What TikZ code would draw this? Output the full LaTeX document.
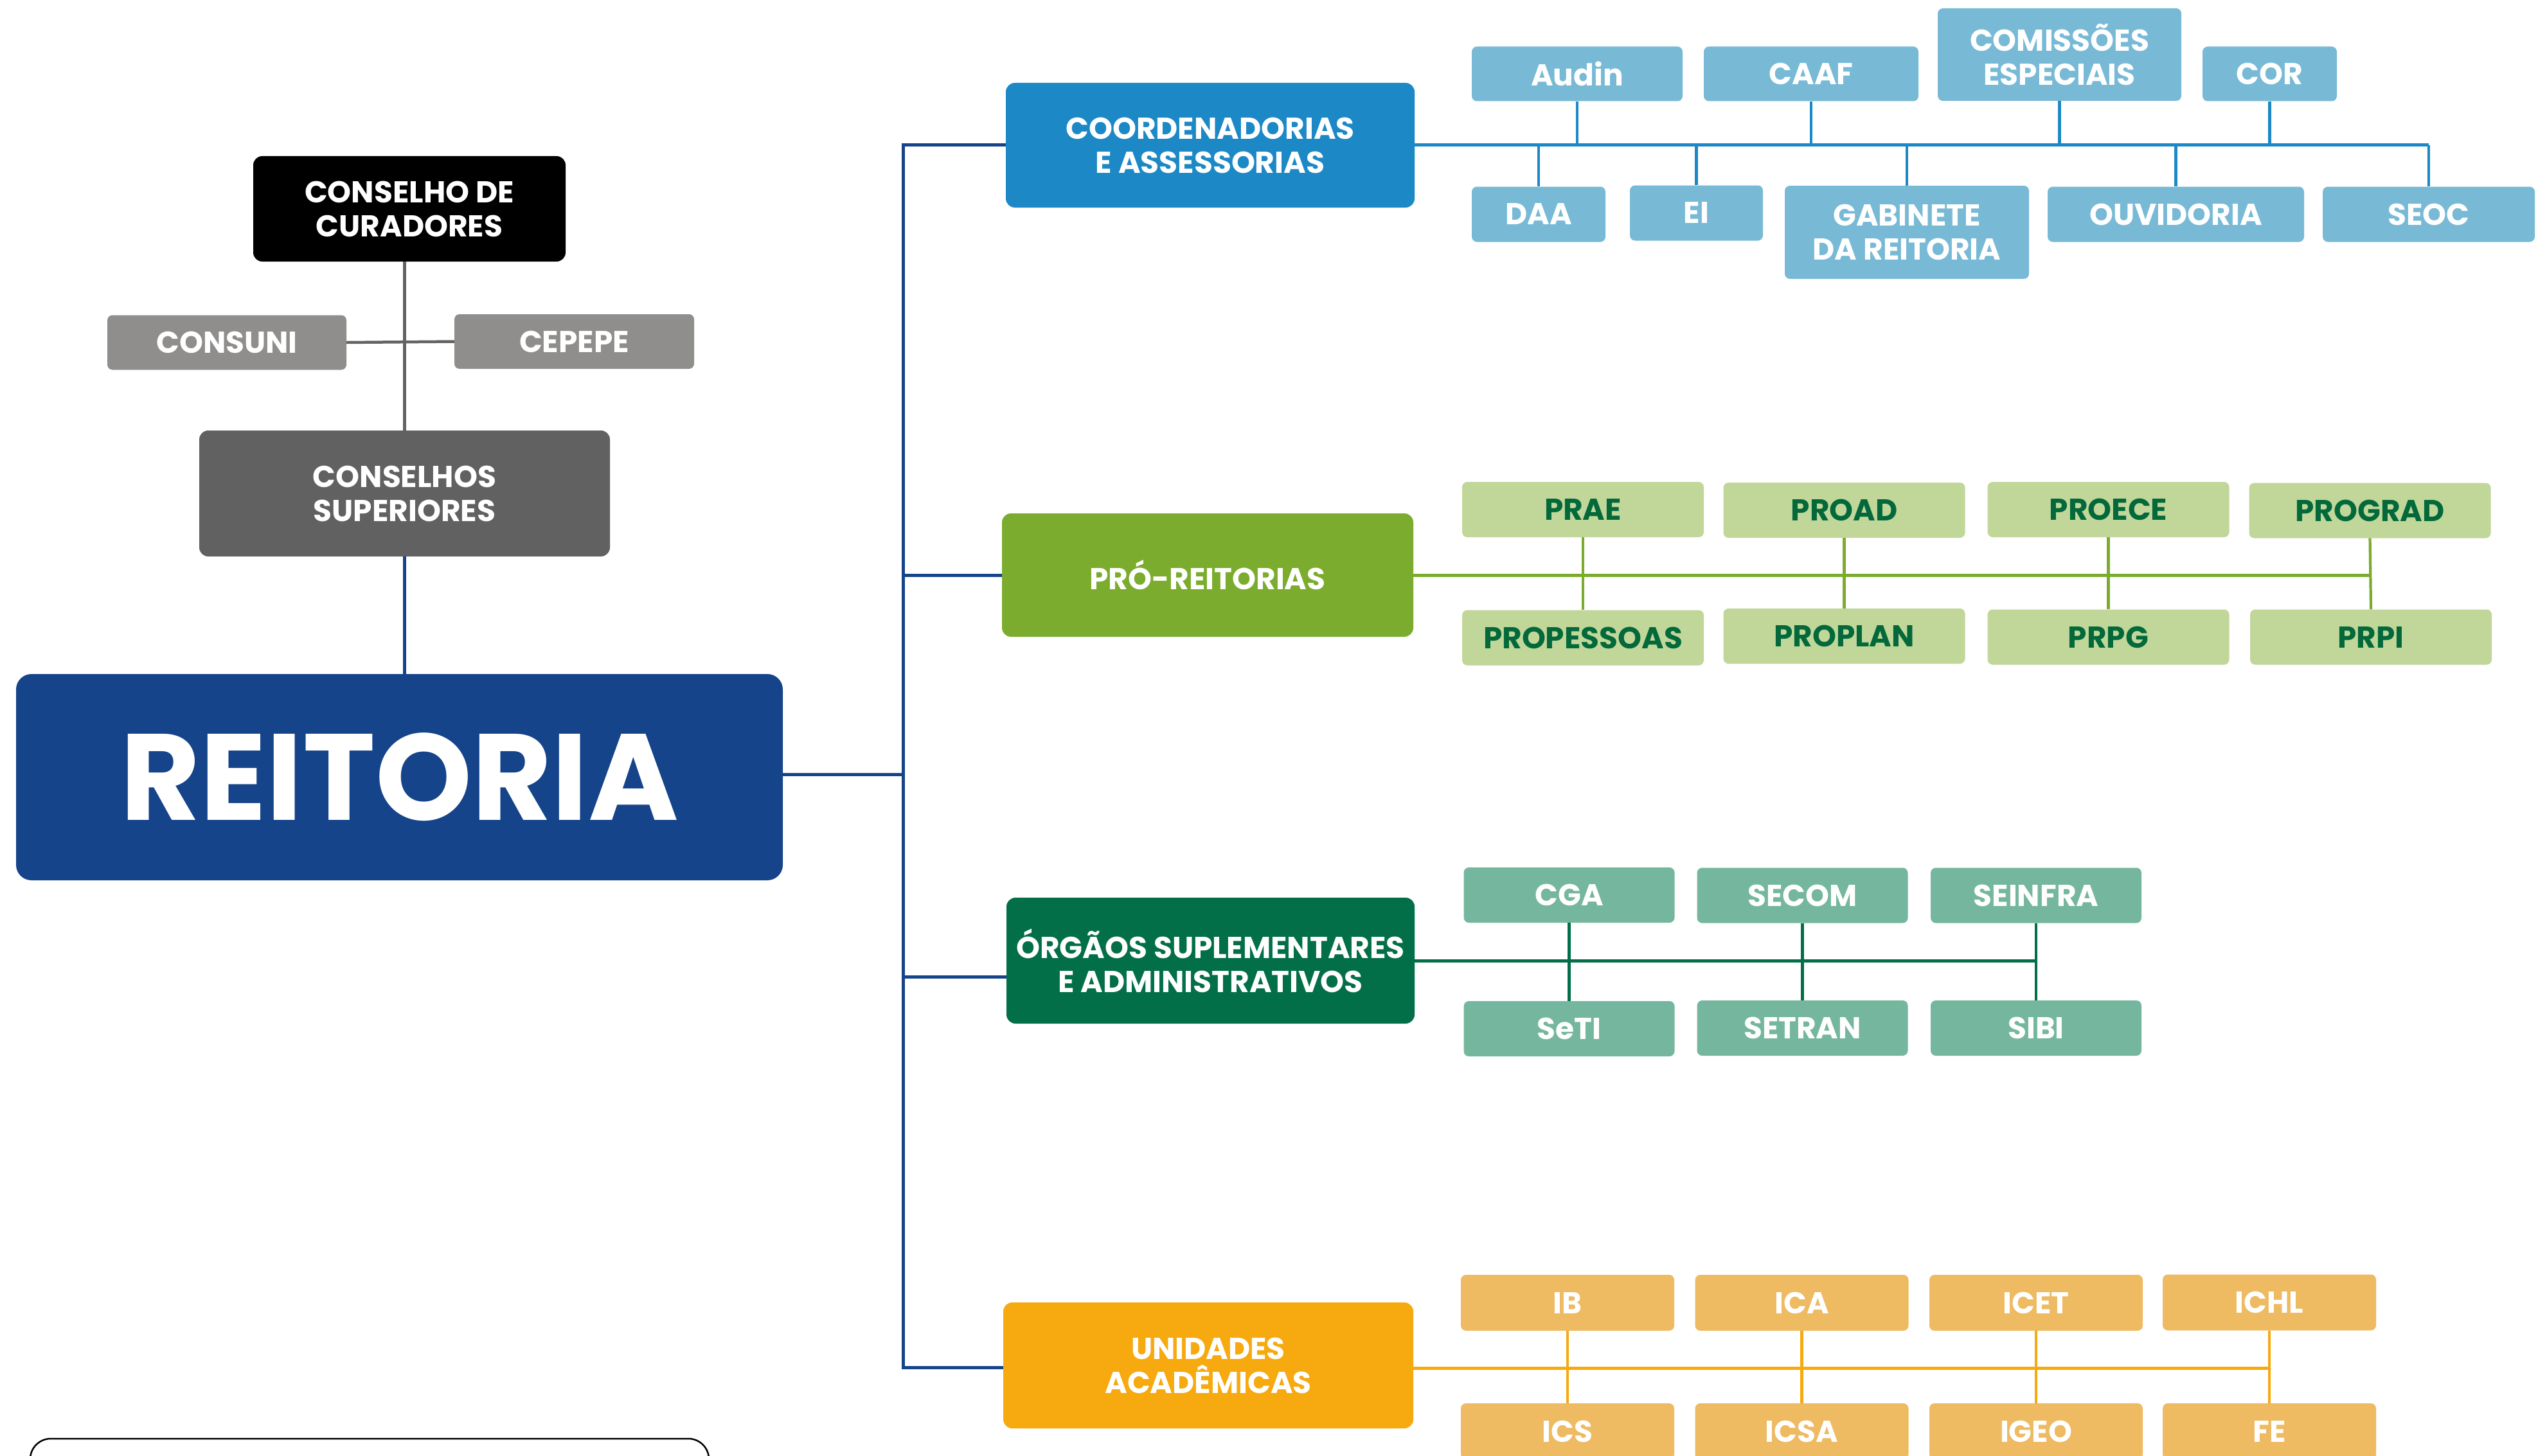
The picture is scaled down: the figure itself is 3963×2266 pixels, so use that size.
\documentclass[tikz,border=0pt]{standalone}
\usepackage{fontspec}
\setmainfont{Poppins}
\definecolor{reiblue}{HTML}{15448A}
\definecolor{coordblue}{HTML}{1C89C6}
\definecolor{lightblue}{HTML}{78BAD6}
\definecolor{progreen}{HTML}{7BAC2D}
\definecolor{lightgreen}{HTML}{C1D79A}
\definecolor{textgreen}{HTML}{03693B}
\definecolor{orggreen}{HTML}{036F49}
\definecolor{orgchild}{HTML}{75B79E}
\definecolor{uniorange}{HTML}{F6AA0F}
\definecolor{unichild}{HTML}{EEBA62}
\definecolor{graybox}{HTML}{8F8E8C}
\definecolor{darkgraybox}{HTML}{616161}
\definecolor{grayline}{HTML}{636363}
\tikzset{
  box/.style={rectangle, rounded corners=8pt, inner sep=0pt, align=center,
    text=white, font=\fontsize{47}{53}\selectfont\bfseries},
  bigbox/.style={box, rounded corners=14pt},
  cbox/.style={box, fill=lightblue, minimum height=86pt},
  pbox/.style={box, fill=lightgreen, text=textgreen, minimum width=376pt, minimum height=86pt},
  obox/.style={box, fill=orgchild, minimum width=328pt, minimum height=86pt},
  ubox/.style={box, fill=unichild, minimum width=332pt, minimum height=87pt},
  trunk/.style={draw=reiblue, line width=5pt},
  bus/.style={line width=5pt},
  twig/.style={line width=4.2pt},
  gline/.style={draw=grayline, line width=4.5pt}
}
\begin{document}
\begin{tikzpicture}[x=1pt,y=-1pt]
\useasboundingbox (0,0) rectangle (3963,2266);
\fill[white] (0,0) rectangle (3963,2266);

% left column
\node[bigbox, fill=black, minimum width=486pt, minimum height=164pt] (cur) at (637,325) {CONSELHO DE\\CURADORES};
\node[box, fill=graybox, minimum width=372pt, minimum height=85pt] (consuni) at (353,533) {CONSUNI};
\node[box, fill=graybox, minimum width=373pt, minimum height=85pt] (cepepe) at (893.5,531.5) {CEPEPE};
\node[bigbox, fill=darkgraybox, minimum width=639pt, minimum height=196pt] (sup) at (629.5,768) {CONSELHOS\\SUPERIORES};
\node[box, rounded corners=24pt, fill=reiblue, minimum width=1193pt, minimum height=321pt,
  font=\fontsize{191}{210}\selectfont\bfseries] (rei) at (621.5,1209.5) {REITORIA};

\draw[gline] (sup.north) -- (sup.north |- cur.south);
\draw[gline] (consuni.east) -- (cepepe.west);
\draw[trunk] (sup.south) -- (sup.south |- rei.north);

% main branch boxes
\node[bigbox, fill=coordblue, minimum width=636pt, minimum height=194pt] (coord) at (1883,226) {COORDENADORIAS\\E ASSESSORIAS};
\node[bigbox, fill=progreen, minimum width=640pt, minimum height=192pt] (pro) at (1879,895) {PRÓ-REITORIAS};
\node[bigbox, fill=orggreen, minimum width=635pt, minimum height=196pt] (org) at (1883.5,1495) {ÓRGÃOS SUPLEMENTARES\\E ADMINISTRATIVOS};
\node[bigbox, fill=uniorange, minimum width=638pt, minimum height=196pt] (uni) at (1880,2125) {UNIDADES\\ACADÊMICAS};

% trunk
\coordinate (tA) at (1405.5,226);
\coordinate (tB) at (1405.5,895);
\coordinate (tC) at (1405.5,1520);
\coordinate (tD) at (1405.5,2128);
\coordinate (tR) at (1405.5,1205);
\draw[trunk] (coord.west) -- (tA) -- (tD) -- (tD -| uni.west);
\draw[trunk] (tB) -- (pro.west);
\draw[trunk] (tC) -- (tC -| org.west);
\draw[trunk] (rei.east |- tR) -- (tR);

% coordenadorias children
\node[cbox, minimum width=328pt, minimum height=85pt] (audin) at (2454,115) {Audin};
\node[cbox, minimum width=334pt, minimum height=85pt] (caaf) at (2818,115) {CAAF};
\node[cbox, minimum width=379pt, minimum height=144pt] (comis) at (3204.5,85) {COMISSÕES\\ESPECIAIS};
\node[cbox, minimum width=209pt, minimum height=85pt] (cor) at (3531.5,115) {COR};
\node[cbox, minimum width=208pt] (daa) at (2394,333.5) {DAA};
\node[cbox, minimum width=207pt] (ei) at (2639.5,331.5) {EI};
\node[cbox, minimum width=380pt, minimum height=145pt] (gab) at (2967,361.5) {GABINETE\\DA REITORIA};
\node[cbox, minimum width=399pt] (ouv) at (3385.5,333.5) {OUVIDORIA};
\node[cbox, minimum width=330pt] (seoc) at (3779,333.5) {SEOC};
\begin{scope}[draw=coordblue]
\draw[bus] (coord.east) -- (coord.east -| seoc.north);
\foreach \n in {audin,caaf,comis,cor} \draw[twig] (\n.south) -- (\n.south |- coord.east);
\foreach \n in {daa,ei,gab,ouv,seoc} \draw[twig] (\n.north) -- (\n.north |- coord.east);
\end{scope}

% pro-reitorias children
\node[pbox] (prae) at (2463,793) {PRAE};
\node[pbox] (proad) at (2869.5,794) {PROAD};
\node[pbox] (proece) at (3280.5,793) {PROECE};
\node[pbox] (prograd) at (3687.5,794.5) {PROGRAD};
\node[pbox] (propessoas) at (2463,992.5) {PROPESSOAS};
\node[pbox] (proplan) at (2869.5,990) {PROPLAN};
\node[pbox] (prpg) at (3280.5,991.5) {PRPG};
\node[pbox] (prpi) at (3689,991.5) {PRPI};
\begin{scope}[draw=progreen]
\draw[bus] (pro.east) -- (pro.east -| prograd.south);
\foreach \a/\b in {prae/propessoas,proad/proplan,proece/prpg,prograd/prpi} \draw[twig] (\a.south) -- (\b.north);
\end{scope}

% orgaos children
\node[obox] (cga) at (2441.5,1393) {CGA};
\node[obox] (secom) at (2804.5,1393.5) {SECOM};
\node[obox] (seinfra) at (3168,1393.5) {SEINFRA};
\node[obox] (seti) at (2441.5,1601) {SeTI};
\node[obox] (setran) at (2804.5,1600) {SETRAN};
\node[obox] (sibi) at (3168,1600) {SIBI};
\begin{scope}[draw=orggreen]
\draw[bus] (org.east) -- (org.east -| seinfra.south);
\foreach \a/\b in {cga/seti,secom/setran,seinfra/sibi} \draw[twig] (\a.south) -- (\b.north);
\end{scope}

% unidades children
\node[ubox] (ib) at (2439,2027.5) {IB};
\node[ubox] (ica) at (2803.5,2027.5) {ICA};
\node[ubox] (icet) at (3168,2027.5) {ICET};
\node[ubox] (ichl) at (3531,2027) {ICHL};
\node[ubox] (ics) at (2439,2227.5) {ICS};
\node[ubox] (icsa) at (2803.5,2227.5) {ICSA};
\node[ubox] (igeo) at (3168,2227.5) {IGEO};
\node[ubox] (fe) at (3531,2227.5) {FE};
\begin{scope}[draw=uniorange]
\coordinate (ubus) at (2199,2129);
\draw[bus] (ubus) -- (ubus -| ichl.south);
\foreach \a/\b in {ib/ics,ica/icsa,icet/igeo,ichl/fe} \draw[twig] (\a.south) -- (\b.north);
\end{scope}

% partially visible frame at the bottom left
\draw[black, line width=2.5pt, rounded corners=32pt] (47,2360) -- (47,2239) -- (1103,2239) -- (1103,2360);
\end{tikzpicture}
\end{document}
